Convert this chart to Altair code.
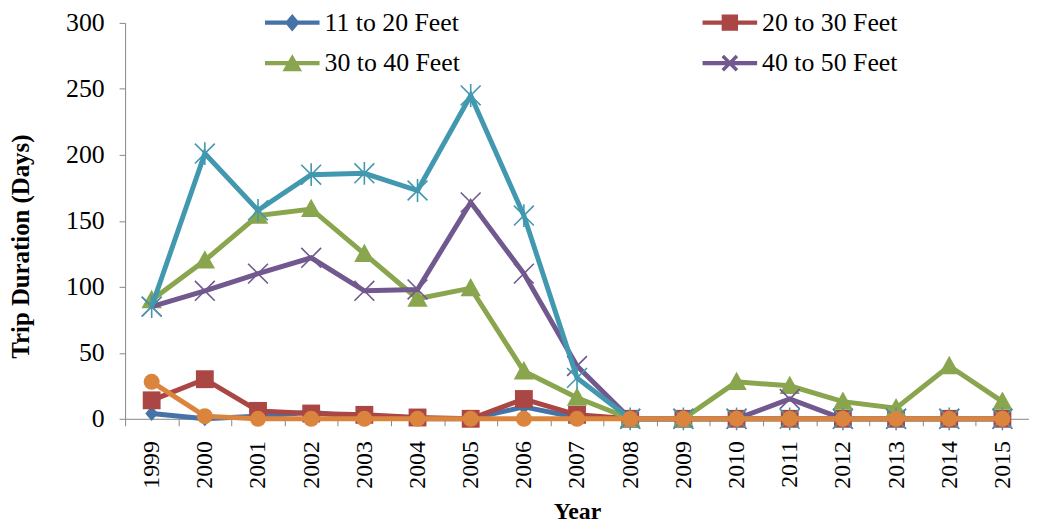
import altair as alt
import pandas as pd

years = list(range(1999, 2016))
series_names = ["11 to 20 Feet", "20 to 30 Feet", "30 to 40 Feet", "40 to 50 Feet",
                "50 to 60 Feet", "Over 60 Feet"]
legend_names = series_names[:4]

v_11_20 = [4, 0, 2, 5, 1, 0, 0, 9, 1, 0, 0, 0, 0, 0, 0, 0, 0]
v_20_30 = [14, 30, 6, 4, 3, 1, 0, 15, 3, 0, 0, 0, 0, 0, 0, 0, 0]
v_30_40 = [90, 120, 154, 159, 125, 91, 99, 36, 16, 0, 0, 28, 25, 13, 8, 40, 13]
v_40_50 = [85, 97, 110, 122, 97, 98, 164, 110, 40, 0, 0, 0, 15, 0, 0, 0, 0]
v_50_60 = [85, 201, 158, 185, 186, 173, 245, 154, 31, 0, 0, 0, 0, 0, 0, 0, 0]
v_60 = [28, 2, 0, 0, 0, 0, 0, 0, 0, 0, 0, 0, 0, 0, 0, 0, 0]
all_values = [v_11_20, v_20_30, v_30_40, v_40_50, v_50_60, v_60]

colors = ["#4572A7", "#AA4643", "#89A54E", "#71588F", "#4198AF", "#DB843D"]

rows = []
for name, vals in zip(series_names, all_values):
    for yr, v in zip(years, vals):
        rows.append({"year": yr, "series": name, "value": v})
df = pd.DataFrame(rows)

FONT = "Liberation Serif"
GRAY = "#868686"

tick_vals = [y - 0.5 for y in years] + [years[-1] + 0.5] + years

x_enc = alt.X(
    "year:Q",
    scale=alt.Scale(domain=[1998.5, 2015.5], nice=False, zero=False),
    axis=alt.Axis(
        values=tick_vals,
        labelExpr="datum.value % 1 == 0 ? '' + datum.value : ''",
        tickOpacity={"condition": {"test": "datum.value % 1 == 0", "value": 0}, "value": 1},
        labelAngle=-90, labelAlign="right", labelBaseline="middle",
        labelFlush=False, labelOverlap=False,
        labelFont=FONT, labelFontSize=24, labelColor="black", labelPadding=15,
        tickSize=7, tickColor=GRAY, domainColor=GRAY, tickWidth=1, domainWidth=1,
        grid=False,
        title="Year", titleFont=FONT, titleFontSize=24, titleFontWeight="bold",
        titleColor="black", titlePadding=11,
    ),
)
y_enc = alt.Y(
    "value:Q",
    scale=alt.Scale(domain=[0, 300], nice=False),
    axis=alt.Axis(
        values=[0, 50, 100, 150, 200, 250, 300],
        labelFont=FONT, labelFontSize=26, labelColor="black", labelPadding=15,
        tickSize=6, tickColor=GRAY, domainColor=GRAY, tickWidth=1, domainWidth=1,
        grid=False,
        title="Trip Duration (Days)", titleFont=FONT, titleFontSize=25,
        titleFontWeight="bold", titleColor="black", titlePadding=32, titleY=225,
    ),
)

# marker shapes for the plot
plot_shapes = [
    ("M0,-1L0.85,0L0,1L-0.85,0Z", 230, True),
    ("M-1,-1L1,-1L1,1L-1,1Z", 324, True),
    ("M0,-1L1,0.8L-1,0.8Z", 420, True),
    ("M-1,-1L1,1M-1,1L1,-1", 400, False),
    ("M-1,-1L1,1M-1,1L1,-1M0,-1.15L0,1.15", 400, False),
    ("circle", 260, True),
]

layers = []
for name, color, (shape, size, filled) in zip(series_names, colors, plot_shapes):
    base = alt.Chart(df).transform_filter(alt.datum.series == name)
    line = base.mark_line(color=color, strokeWidth=5).encode(x=x_enc, y=y_enc)
    if filled:
        pts = base.mark_point(shape=shape, size=size, filled=True, color=color,
                              opacity=1, strokeWidth=0).encode(x=x_enc, y=y_enc)
    else:
        pts = base.mark_point(shape=shape, size=size, filled=False, color=color,
                              opacity=1, strokeWidth=1.6).encode(x=x_enc, y=y_enc)
    layers += [line, pts]

# legend symbols: a line bar with the marker, all filled
bar = "M-1,-0.08L1,-0.08L1,0.08L-1,0.08Z"
k = 0.045
d = 0.26
x1 = f"M{-d+k},{-d-k}L{d+k},{d-k}L{d-k},{d+k}L{-d-k},{-d+k}Z"
x2 = f"M{-d+k},{d+k}L{-d-k},{d-k}L{d-k},{-d-k}L{d+k},{-d+k}Z"
legend_paths = [
    bar + "M0,-0.32L0.27,0L0,0.32L-0.27,0Z",
    bar + "M-0.3,-0.3L0.3,-0.3L0.3,0.3L-0.3,0.3Z",
    bar + "M0,-0.32L0.36,0.3L-0.36,0.3Z",
    bar + x1 + x2,
]

legend_props = dict(title=None, orient="none", legendX=141, legendY=-28,
                    direction="horizontal", columns=2, columnPadding=244, rowPadding=-6,
                    symbolSize=3025, symbolStrokeWidth=0,
                    labelFont=FONT, labelFontSize=26, labelColor="black",
                    labelOffset=5, padding=0, symbolOpacity=1)

legend_layer = alt.Chart(df).transform_filter("false").mark_point(
    filled=True, opacity=1, size=3025
).encode(
    x=x_enc, y=y_enc,
    shape=alt.Shape("series:N", scale=alt.Scale(domain=legend_names, range=legend_paths),
                    legend=alt.Legend(**legend_props)),
    color=alt.Color("series:N", scale=alt.Scale(domain=legend_names, range=colors[:4]),
                    legend=alt.Legend(**legend_props)),
)

chart = alt.layer(*layers, legend_layer).properties(
    width=911, height=399,
    autosize=alt.AutoSizeParams(type="none"),
    padding={"left": 118, "top": 13, "right": 0, "bottom": 103},
    background="white",
).configure_view(stroke=None)

chart.save("out.html", embed_options={"renderer": "svg", "actions": False})
